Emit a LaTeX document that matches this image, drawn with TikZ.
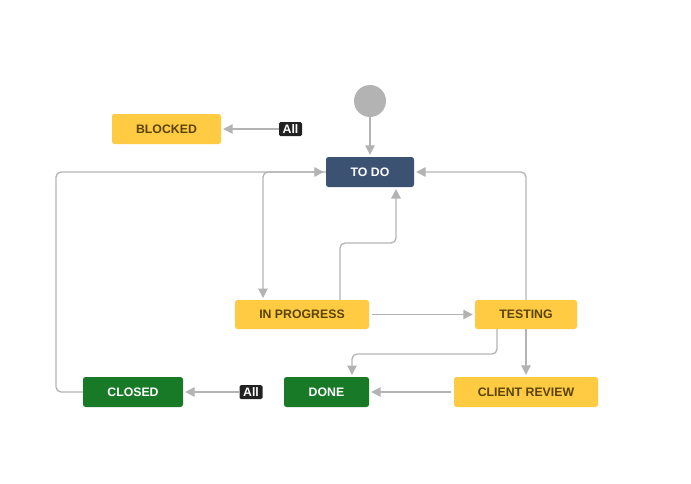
\documentclass[tikz,border=0pt]{standalone}
\usepackage{fontspec}
\setmainfont{Liberation Sans}
\usetikzlibrary{arrows.meta}
\definecolor{jyellow}{HTML}{FFCB42}
\definecolor{jbrown}{HTML}{594300}
\definecolor{jnavy}{HTML}{3B5273}
\definecolor{jgreen}{HTML}{187A26}
\definecolor{jgray}{HTML}{B3B3B3}
\definecolor{jdark}{HTML}{222222}
\tikzset{
  state/.style={rounded corners=2.5pt, inner sep=0pt, font=\fontsize{12.3}{13}\selectfont\bfseries, anchor=center},
  yst/.style={state, fill=jyellow, text=jbrown},
  nst/.style={state, fill=jnavy, text=white},
  gst/.style={state, fill=jgreen, text=white},
  alllab/.style={fill=jdark, text=white, rounded corners=1.5pt, inner sep=0pt, minimum width=23pt, minimum height=14pt, font=\fontsize{12.3}{13}\selectfont\bfseries},
  conn/.style={draw=jgray, line width=1.3pt, rounded corners=5pt, -{Triangle[length=9.5pt,width=9.5pt]}, color=jgray},
}
\begin{document}
\begin{tikzpicture}[x=1pt,y=-1pt]
\useasboundingbox (0,0) rectangle (691,483);
% nodes
\node[circle, fill=jgray, minimum size=32pt, inner sep=0pt] (start) at (370,101) {};
\node[yst, minimum width=109pt, minimum height=30pt] (blocked) at (166.5,129) {BLOCKED};
\node[alllab] (all1) at (290.5,129) {All};
\node[nst, minimum width=88pt, minimum height=30pt] (todo) at (370,172) {TO DO};
\node[yst, minimum width=134pt, minimum height=29pt] (inprog) at (302,314.5) {IN PROGRESS};
\node[yst, minimum width=102pt, minimum height=29pt] (testing) at (526,314.5) {TESTING};
\node[gst, minimum width=100pt, minimum height=30pt] (closed) at (133,392) {CLOSED};
\node[alllab] (all2) at (251,392) {All};
\node[gst, minimum width=85pt, minimum height=30pt] (done) at (326.5,392) {DONE};
\node[yst, minimum width=144pt, minimum height=30pt] (review) at (526,392) {CLIENT REVIEW};
% connectors
\draw[conn, shorten >=2pt] (start) -- (todo);
\draw[conn, shorten >=2pt] (all1) -- (blocked);
\draw[conn, shorten >=2pt] (closed.west) -- (56,392) -- (56,172) -- (todo.west);
\draw[conn, shorten >=2pt] (todo.west) -- (263,172) -- (263,300);
\draw[conn, shorten >=2pt] (340,300) -- (340,243) -- (396,243) -- (396,187);
\draw[conn, shorten >=2pt, shorten <=3pt] (inprog.east) -- (testing.west);
\draw[conn, shorten >=2pt] (526,300) -- (526,172) -- (todo.east);
\draw[conn, shorten >=2pt] (497,329) -- (497,354) -- (352,354) -- (352,377);
\draw[conn, shorten >=2pt] (526,329) -- (review.north);
\draw[conn, shorten >=2pt, shorten <=3pt] (review.west) -- (done.east);
\draw[conn, shorten >=2pt] (all2) -- (closed);
\end{tikzpicture}
\end{document}
